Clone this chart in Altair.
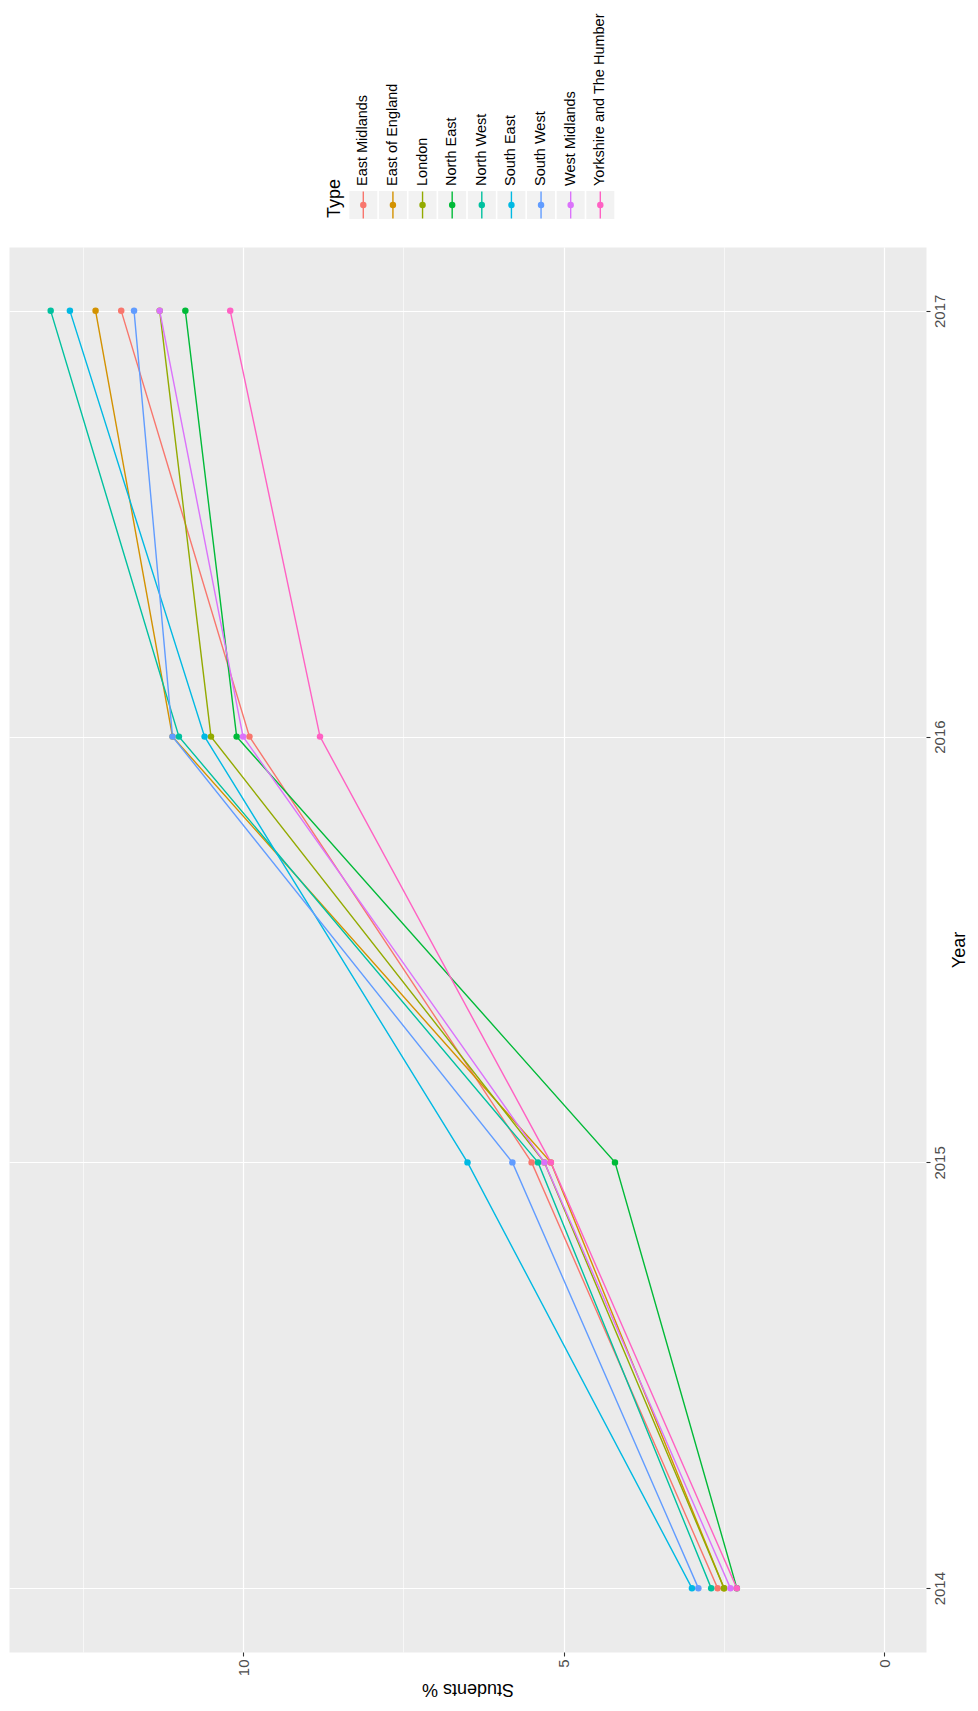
import altair as alt
import pandas as pd

years = [2014, 2015, 2016, 2017]
types = ["East Midlands", "East of England", "London", "North East", "North West",
         "South East", "South West", "West Midlands", "Yorkshire and The Humber"]
east_midlands = [2.6, 5.5, 9.9, 11.9]
east_of_england = [2.5, 5.2, 11.1, 12.3]
london = [2.5, 5.3, 10.5, 11.3]
north_east = [2.3, 4.2, 10.1, 10.9]
north_west = [2.7, 5.4, 11.0, 13.0]
south_east = [3.0, 6.5, 10.6, 12.7]
south_west = [2.9, 5.8, 11.1, 11.7]
west_midlands = [2.4, 5.3, 10.0, 11.3]
yorkshire = [2.3, 5.2, 8.8, 10.2]
colors = ["#F8766D", "#D39200", "#93AA00", "#00BA38", "#00C19F",
          "#00B9E3", "#619CFF", "#DB72FB", "#FF61C3"]

series = [east_midlands, east_of_england, london, north_east, north_west,
          south_east, south_west, west_midlands, yorkshire]
rows = []
for t, vals in zip(types, series):
    for y, v in zip(years, vals):
        rows.append({"Type": t, "Year": y, "Students": v})
df = pd.DataFrame(rows)

FONT = "Liberation Sans"
color_scale = alt.Scale(domain=types, range=colors)

x_axis = alt.Axis(
    orient="bottom",
    values=[0, 2.5, 5, 7.5, 10, 12.5],
    labelExpr="datum.value % 5 === 0 ? datum.label : ''",
    labelAngle=270, labelAlign="right", labelBaseline="middle",
    labelFont=FONT, labelFontSize=15, labelColor="#4D4D4D", labelPadding=3,
    labelOverlap=False,
    domain=False,
    tickColor="#333333", tickSize=4, tickWidth=1.1,
    tickOpacity={"condition": {"test": "datum.value % 5 !== 0", "value": 0}, "value": 1},
    grid=True, gridColor="#FFFFFF",
    gridWidth={"condition": {"test": "datum.value % 5 !== 0", "value": 0.6}, "value": 1.2},
    title="Students %", titleAngle=180, titleBaseline="bottom",
    titleFont=FONT, titleFontSize=18, titleFontWeight="normal", titleColor="#000000",
    titlePadding=4,
)

y_axis = alt.Axis(
    orient="right",
    values=[2014, 2014.5, 2015, 2015.5, 2016, 2016.5, 2017],
    format="d",
    labelExpr="datum.value % 1 === 0 ? datum.label : ''",
    labelAngle=270, labelAlign="center", labelBaseline="top",
    labelFont=FONT, labelFontSize=15, labelColor="#4D4D4D", labelPadding=2,
    labelOverlap=False,
    domain=False,
    tickColor="#333333", tickSize=4, tickWidth=1.1,
    tickOpacity={"condition": {"test": "datum.value % 1 !== 0", "value": 0}, "value": 1},
    grid=True, gridColor="#FFFFFF",
    gridWidth={"condition": {"test": "datum.value % 1 !== 0", "value": 0.6}, "value": 1.2},
    title="Year", titleAngle=270, titleBaseline="top",
    titleFont=FONT, titleFontSize=18, titleFontWeight="normal", titleColor="#000000",
    titlePadding=3,
)

base = alt.Chart(df).encode(
    x=alt.X("Students:Q", scale=alt.Scale(domain=[-0.65, 13.65], reverse=True, nice=False, zero=False), axis=x_axis),
    y=alt.Y("Year:Q", scale=alt.Scale(domain=[2013.85, 2017.15], nice=False, zero=False), axis=y_axis),
    color=alt.Color("Type:N", scale=color_scale, legend=None),
)
lines = base.mark_line(strokeWidth=1.4).encode(order="Year:Q")
points = base.mark_circle(size=42, opacity=1)
main = alt.layer(lines, points).properties(
    width=917, height=1405,
    view=alt.ViewBackground(fill="#EBEBEB", stroke="transparent"),
)

# custom legend (rotated labels)
leg_df = pd.DataFrame({"Type": types})
lx = alt.X("Type:N", scale=alt.Scale(type="point", domain=types, range=[354.3, 591.3], padding=0), axis=None)
keys = alt.Chart(leg_df).mark_square(size=784, color="#F2F2F2", opacity=1).encode(x=lx, y=alt.value(196))
key_lines = alt.Chart(leg_df).mark_rule(strokeWidth=1.4).encode(
    x=lx, y=alt.value(182.5), y2=alt.value(209.5),
    color=alt.Color("Type:N", scale=color_scale, legend=None))
key_pts = alt.Chart(leg_df).mark_circle(size=42, opacity=1).encode(
    x=lx, y=alt.value(196),
    color=alt.Color("Type:N", scale=color_scale, legend=None))
key_labels = alt.Chart(leg_df).mark_text(
    angle=270, align="left", baseline="middle", font=FONT, fontSize=14.5, color="#000000"
).encode(x=lx, y=alt.value(177), text="Type:N")
leg_title = alt.Chart(pd.DataFrame({"t": ["Type"]})).mark_text(
    angle=270, align="left", baseline="middle", font=FONT, fontSize=18, color="#000000"
).encode(x=alt.value(326), y=alt.value(209), text="t:N")
legend = alt.layer(keys, key_lines, key_pts, key_labels, leg_title).properties(
    width=917, height=236,
    view=alt.ViewBackground(stroke="transparent"),
)

chart = alt.vconcat(legend, main, spacing=0).resolve_scale(
    x="independent", y="independent"
).properties(padding=0, background="#FFFFFF")

chart.save("out.html", embed_options={"renderer": "svg", "actions": False})
